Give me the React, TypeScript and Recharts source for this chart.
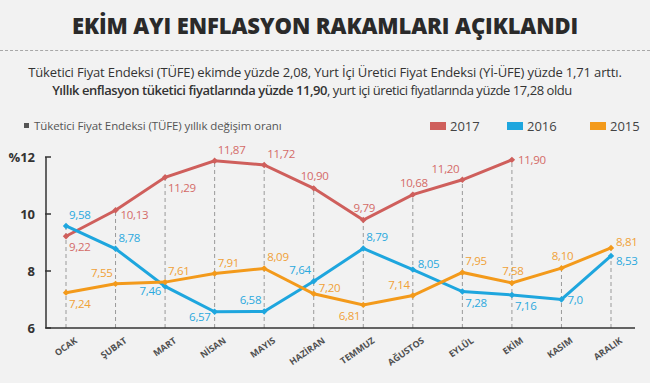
import React from 'react';
import { LineChart, Line, XAxis, YAxis, ReferenceLine, LabelList } from 'recharts';

const months = ['OCAK', 'ŞUBAT', 'MART', 'NİSAN', 'MAYIS', 'HAZİRAN', 'TEMMUZ', 'AĞUSTOS', 'EYLÜL', 'EKİM', 'KASIM', 'ARALIK'];
const y2017 = [9.22, 10.13, 11.29, 11.87, 11.72, 10.9, 9.79, 10.68, 11.2, 11.9, null, null];
const y2016 = [9.58, 8.78, 7.46, 6.57, 6.58, 7.64, 8.79, 8.05, 7.28, 7.16, 7.0, 8.53];
const y2015 = [7.24, 7.55, 7.61, 7.91, 8.09, 7.2, 6.81, 7.14, 7.95, 7.58, 8.1, 8.81];
const yTicks = [6, 8, 10, 12];

// where each value label sits relative to its point
const pos2017 = ['br', 'rd', 'br', 'ar', 'ar', 'a', 'a', 'a', 'al', 'r', '', ''];
const pos2016 = ['ar', 'ar', 'ld', 'ld', 'al', 'al', 'ar', 'ru', 'br', 'br', 'r', 'rd'];
const pos2015 = ['br', 'al', 'ar', 'ar', 'ar', 'ru', 'bl', 'al', 'ar', 'a', 'a', 'ru'];

const series = [
  { key: 'y2017', name: '2017', color: '#cf5f5c', labelColor: '#d46b68', pos: pos2017, legendX: 430 },
  { key: 'y2016', name: '2016', color: '#1ea6de', labelColor: '#2ba9de', pos: pos2016, legendX: 507 },
  { key: 'y2015', name: '2015', color: '#f39a1b', labelColor: '#f0a137', pos: pos2015, legendX: 590 },
];

const data = months.map((m, i) => ({
  month: m,
  y2017: y2017[i],
  y2016: y2016[i],
  y2015: y2015[i],
  top: Math.max(...[y2017[i], y2016[i], y2015[i]].filter((v) => v != null) as number[]),
}));

const FONT = '"Open Sans", "DejaVu Sans", sans-serif';

const fmt = (v: number) => (Number.isInteger(v) ? v.toFixed(1) : v.toFixed(2)).replace('.', ',');

const offsets: Record<string, [number, number, string]> = {
  ar: [3, -7, 'start'],
  al: [-3, -7, 'end'],
  a: [1, -8, 'middle'],
  br: [3, 15, 'start'],
  bl: [-3, 15, 'end'],
  r: [6, 4, 'start'],
  rd: [5, 9, 'start'],
  ru: [5, -2, 'start'],
  ld: [-4, 9, 'end'],
};

const makeLabel = (color: string, pos: string[]) => (props: any) => {
  const { x, y, value, index } = props;
  if (value == null || x == null || y == null) return null;
  const o = offsets[pos[index]] || offsets.ar;
  return (
    <text x={x + o[0]} y={y + o[1]} textAnchor={o[2] as any} fill={color} fontSize={11.5} fontFamily={FONT} letterSpacing={-0.3}>
      {fmt(value)}
    </text>
  );
};

const makeDot = (color: string) => (props: any) => {
  const { cx, cy, index } = props;
  if (cx == null || cy == null || props.value == null) return <g key={index} />;
  const r = 3.2;
  return <path key={index} d={`M${cx},${cy - r}L${cx + r},${cy}L${cx},${cy + r}L${cx - r},${cy}Z`} fill={color} />;
};

const YTick = (props: any) => {
  const { x, y, payload } = props;
  return (
    <g>
      <line x1={x - 1} x2={x + 5} y1={y} y2={y} stroke="#333" strokeWidth={1.5} />
      <text x={x - 11} y={y + 5} textAnchor="end" fill="#333" fontSize={13} fontWeight={700} fontFamily={FONT}>
        {payload.value === 12 ? '%12' : payload.value}
      </text>
    </g>
  );
};

const XTick = (props: any) => {
  const { x, y, payload } = props;
  return (
    <text transform={`translate(${x + 12},${y + 14}) rotate(-35)`} textAnchor="end" fill="#505050" fontSize={9} fontWeight={700} fontFamily={FONT}>
      {payload.value}
    </text>
  );
};

export default function App() {
  return (
    <div style={{ position: 'absolute', left: 0, top: 0, width: 650, height: 383, background: '#f2f2f2', overflow: 'hidden', fontFamily: FONT }}>
      <div style={{ position: 'absolute', top: 10, left: 0, width: 650, textAlign: 'center', fontSize: 22, fontWeight: 800, color: '#2a2a2a', letterSpacing: -0.1 }}>
        EKİM AYI ENFLASYON RAKAMLARI AÇIKLANDI
      </div>
      <div style={{ position: 'absolute', top: 50, left: 0, width: 650, borderTop: '1px dashed #a8a8a8' }} />
      <div style={{ position: 'absolute', top: 63, left: 0, width: 650, textAlign: 'center', fontSize: 13, color: '#333', lineHeight: '18px', letterSpacing: -0.15 }}>
        <div>Tüketici Fiyat Endeksi (TÜFE) ekimde yüzde 2,08, Yurt İçi Üretici Fiyat Endeksi (Yİ-ÜFE) yüzde 1,71 arttı.</div>
        <div style={{ letterSpacing: -0.45, paddingRight: 26 }}>
          <span style={{ fontWeight: 600 }}>Yıllık enflasyon tüketici fiyatlarında yüzde 11,90</span>, yurt içi üretici fiyatlarında yüzde 17,28 oldu
        </div>
      </div>
      <div style={{ position: 'absolute', top: 118, left: 24, fontSize: 11.5, color: '#555', display: 'flex', alignItems: 'center', letterSpacing: -0.1 }}>
        <span style={{ display: 'inline-block', width: 5, height: 5, background: '#555', marginRight: 5 }} />
        Tüketici Fiyat Endeksi (TÜFE) yıllık değişim oranı
      </div>
      {series.map((s) => (
        <div key={s.key} style={{ position: 'absolute', top: 117, left: s.legendX, display: 'flex', alignItems: 'center', fontSize: 13, color: '#444' }}>
          <span style={{ display: 'inline-block', width: 16, height: 8, background: s.color, marginRight: 4 }} />
          {s.name}
        </div>
      ))}
      <div style={{ position: 'absolute', left: 0, top: 0 }}>
        <LineChart width={650} height={383} data={data} margin={{ top: 157, right: 15, bottom: 0, left: 0 }}>
          <XAxis
            dataKey="month"
            height={55}
            interval={0}
            padding={{ left: 20, right: 24 }}
            tickLine={false}
            tickSize={0}
            tickMargin={0}
            axisLine={{ stroke: '#333', strokeWidth: 1.5 }}
            tick={<XTick />}
          />
          <YAxis
            width={46}
            domain={[6, 12]}
            ticks={yTicks}
            interval={0}
            tickLine={false}
            tickSize={0}
            tickMargin={0}
            axisLine={{ stroke: '#333', strokeWidth: 1.5 }}
            tick={<YTick />}
          />
          {data.map((d) => (
            <ReferenceLine
              key={d.month}
              segment={[{ x: d.month, y: 6 }, { x: d.month, y: d.top }]}
              stroke="#9a9a9a"
              strokeDasharray="4 3"
              strokeWidth={1}
            />
          ))}
          {series.map((s) => (
            <Line
              key={s.key}
              dataKey={s.key}
              type="linear"
              stroke={s.color}
              strokeWidth={3}
              dot={makeDot(s.color)}
              activeDot={false}
              isAnimationActive={false}
            >
              <LabelList dataKey={s.key} content={makeLabel(s.labelColor, s.pos)} />
            </Line>
          ))}
        </LineChart>
      </div>
    </div>
  );
}
